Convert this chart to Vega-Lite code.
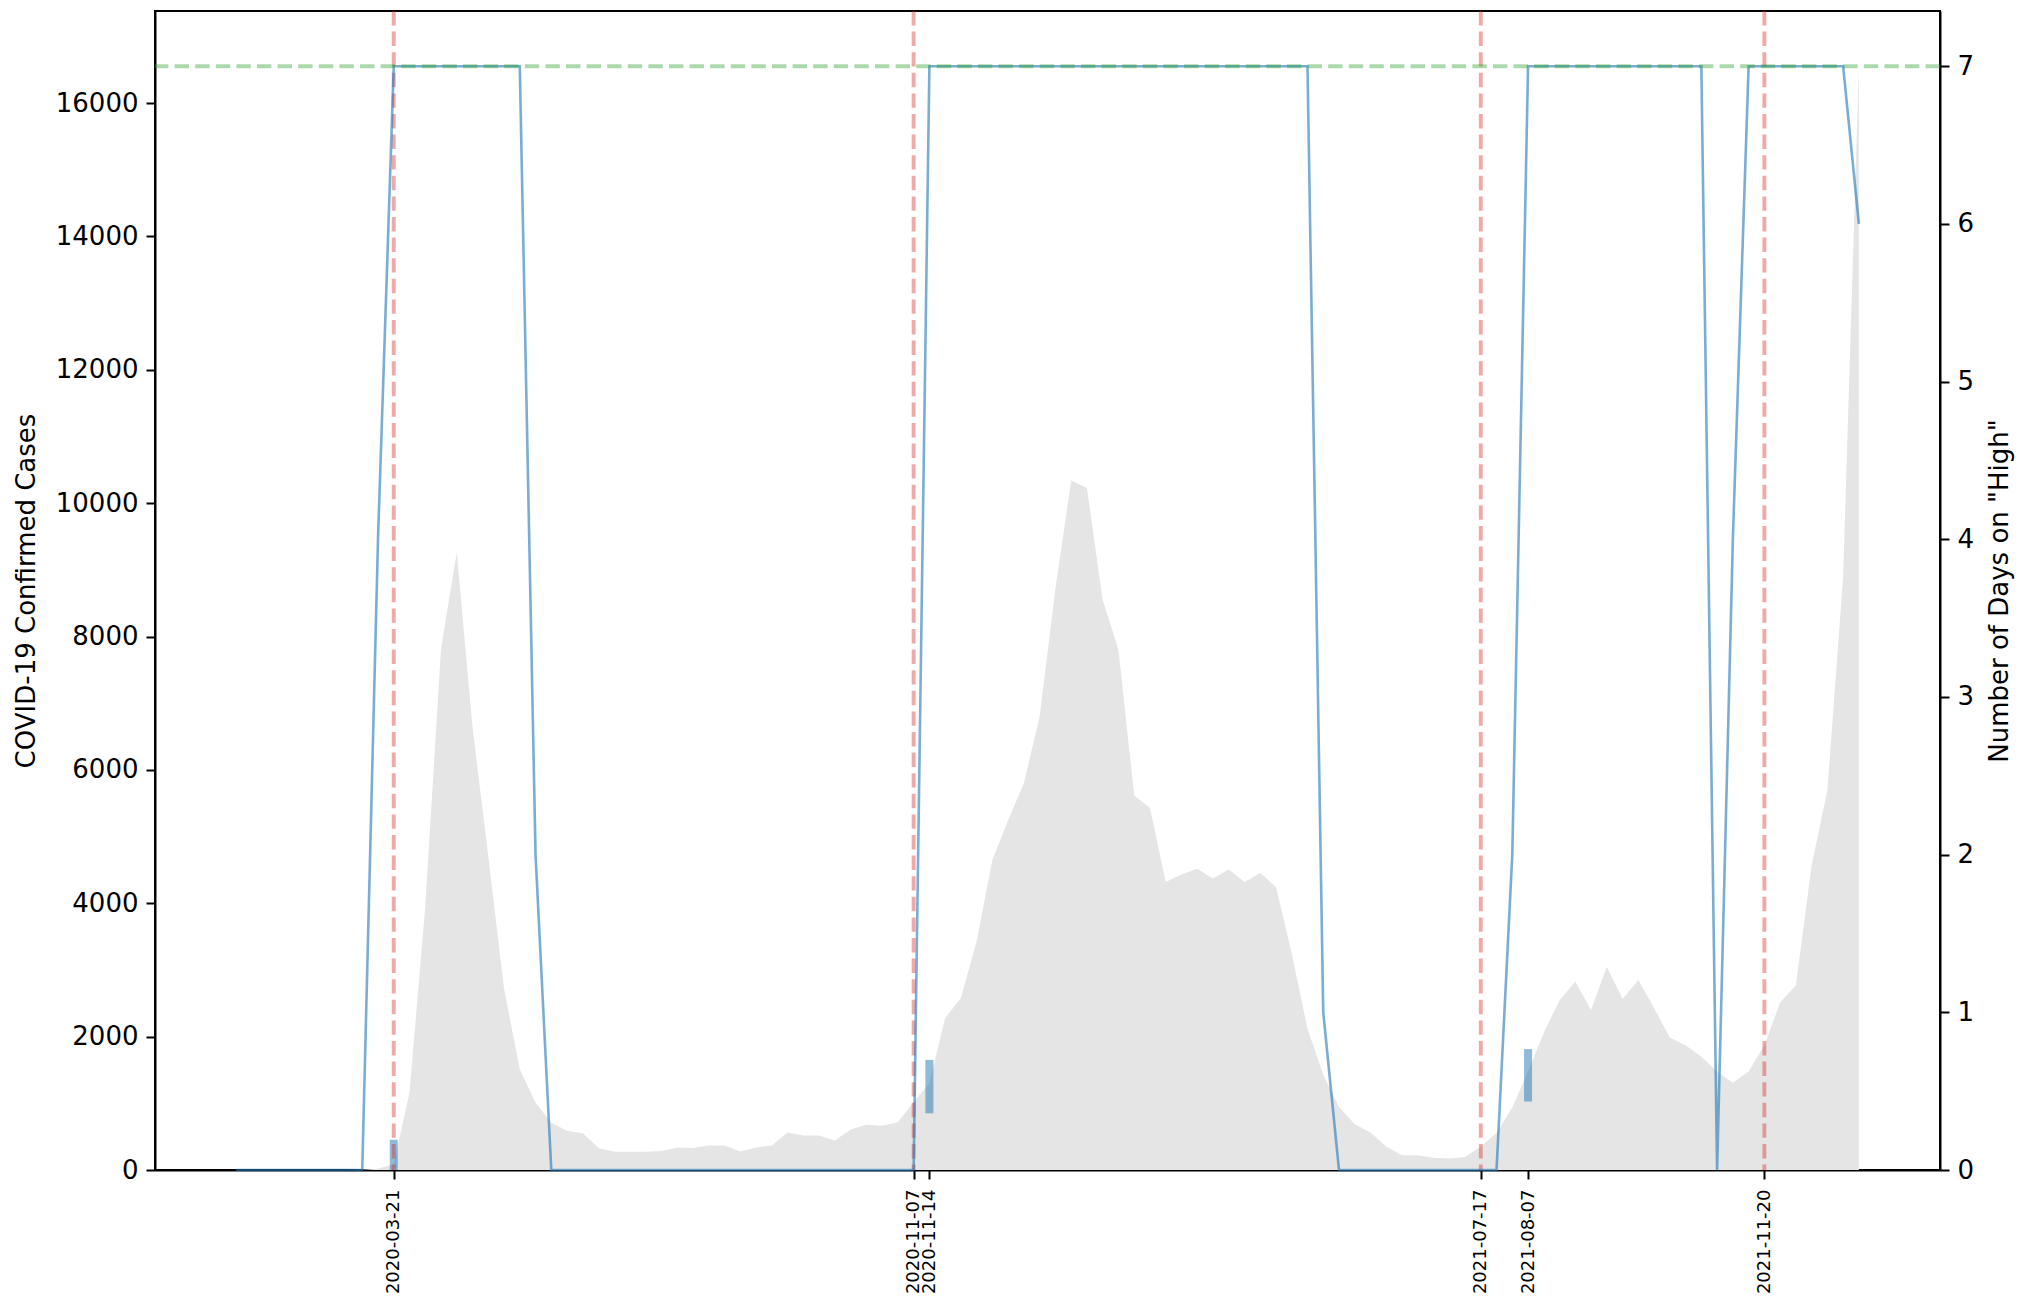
{
  "$schema": "https://vega.github.io/schema/vega-lite/v6.json",
  "width": 1785,
  "height": 1159,
  "autosize": {"type": "none"},
  "padding": {"left": 155, "top": 11, "right": 79, "bottom": 130},
  "background": "white",
  "config": {
    "view": {"stroke": "black", "strokeWidth": 2},
    "font": "DejaVu Sans",
    "axis": {
      "grid": false, "domainColor": "black", "domainWidth": 2,
      "tickColor": "black", "tickWidth": 2, "tickSize": 9,
      "labelColor": "black", "titleColor": "black", "zindex": 1,
      "labelFont": "DejaVu Sans", "titleFont": "DejaVu Sans", "titleFontWeight": "normal"
    }
  },
  "datasets": {
    "weekly": [
      {"date": "2020-01-11", "cases": 0, "days": 0},
      {"date": "2020-01-18", "cases": 0, "days": 0},
      {"date": "2020-01-25", "cases": 0, "days": 0},
      {"date": "2020-02-01", "cases": 0, "days": 0},
      {"date": "2020-02-08", "cases": 0, "days": 0},
      {"date": "2020-02-15", "cases": 0, "days": 0},
      {"date": "2020-02-22", "cases": 0, "days": 0},
      {"date": "2020-02-29", "cases": 0, "days": 0},
      {"date": "2020-03-07", "cases": 5, "days": 0},
      {"date": "2020-03-14", "cases": 20, "days": 4},
      {"date": "2020-03-21", "cases": 90, "days": 7},
      {"date": "2020-03-28", "cases": 1160, "days": 7},
      {"date": "2020-04-04", "cases": 3950, "days": 7},
      {"date": "2020-04-11", "cases": 7815, "days": 7},
      {"date": "2020-04-18", "cases": 9260, "days": 7},
      {"date": "2020-04-25", "cases": 6640, "days": 7},
      {"date": "2020-05-02", "cases": 4700, "days": 7},
      {"date": "2020-05-09", "cases": 2720, "days": 7},
      {"date": "2020-05-16", "cases": 1510, "days": 7},
      {"date": "2020-05-23", "cases": 1010, "days": 2},
      {"date": "2020-05-30", "cases": 710, "days": 0},
      {"date": "2020-06-06", "cases": 590, "days": 0},
      {"date": "2020-06-13", "cases": 550, "days": 0},
      {"date": "2020-06-20", "cases": 330, "days": 0},
      {"date": "2020-06-27", "cases": 275, "days": 0},
      {"date": "2020-07-04", "cases": 275, "days": 0},
      {"date": "2020-07-11", "cases": 275, "days": 0},
      {"date": "2020-07-18", "cases": 285, "days": 0},
      {"date": "2020-07-25", "cases": 339, "days": 0},
      {"date": "2020-08-01", "cases": 330, "days": 0},
      {"date": "2020-08-08", "cases": 369, "days": 0},
      {"date": "2020-08-15", "cases": 369, "days": 0},
      {"date": "2020-08-22", "cases": 279, "days": 0},
      {"date": "2020-08-29", "cases": 339, "days": 0},
      {"date": "2020-09-05", "cases": 369, "days": 0},
      {"date": "2020-09-12", "cases": 561, "days": 0},
      {"date": "2020-09-19", "cases": 517, "days": 0},
      {"date": "2020-09-26", "cases": 517, "days": 0},
      {"date": "2020-10-03", "cases": 442, "days": 0},
      {"date": "2020-10-10", "cases": 606, "days": 0},
      {"date": "2020-10-17", "cases": 680, "days": 0},
      {"date": "2020-10-24", "cases": 665, "days": 0},
      {"date": "2020-10-31", "cases": 717, "days": 0},
      {"date": "2020-11-07", "cases": 1021, "days": 0},
      {"date": "2020-11-14", "cases": 1300, "days": 7},
      {"date": "2020-11-21", "cases": 2281, "days": 7},
      {"date": "2020-11-28", "cases": 2578, "days": 7},
      {"date": "2020-12-05", "cases": 3430, "days": 7},
      {"date": "2020-12-12", "cases": 4653, "days": 7},
      {"date": "2020-12-19", "cases": 5246, "days": 7},
      {"date": "2020-12-26", "cases": 5801, "days": 7},
      {"date": "2021-01-02", "cases": 6802, "days": 7},
      {"date": "2021-01-09", "cases": 8720, "days": 7},
      {"date": "2021-01-16", "cases": 10338, "days": 7},
      {"date": "2021-01-23", "cases": 10227, "days": 7},
      {"date": "2021-01-30", "cases": 8545, "days": 7},
      {"date": "2021-02-06", "cases": 7804, "days": 7},
      {"date": "2021-02-13", "cases": 5616, "days": 7},
      {"date": "2021-02-20", "cases": 5431, "days": 7},
      {"date": "2021-02-27", "cases": 4318, "days": 7},
      {"date": "2021-03-06", "cases": 4431, "days": 7},
      {"date": "2021-03-13", "cases": 4519, "days": 7},
      {"date": "2021-03-20", "cases": 4371, "days": 7},
      {"date": "2021-03-27", "cases": 4505, "days": 7},
      {"date": "2021-04-03", "cases": 4318, "days": 7},
      {"date": "2021-04-10", "cases": 4452, "days": 7},
      {"date": "2021-04-17", "cases": 4245, "days": 7},
      {"date": "2021-04-24", "cases": 3245, "days": 7},
      {"date": "2021-05-01", "cases": 2117, "days": 7},
      {"date": "2021-05-08", "cases": 1429, "days": 1},
      {"date": "2021-05-15", "cases": 946, "days": 0},
      {"date": "2021-05-22", "cases": 687, "days": 0},
      {"date": "2021-05-29", "cases": 561, "days": 0},
      {"date": "2021-06-05", "cases": 354, "days": 0},
      {"date": "2021-06-12", "cases": 220, "days": 0},
      {"date": "2021-06-19", "cases": 220, "days": 0},
      {"date": "2021-06-26", "cases": 183, "days": 0},
      {"date": "2021-07-03", "cases": 171, "days": 0},
      {"date": "2021-07-10", "cases": 195, "days": 0},
      {"date": "2021-07-17", "cases": 352, "days": 0},
      {"date": "2021-07-24", "cases": 555, "days": 0},
      {"date": "2021-07-31", "cases": 937, "days": 2},
      {"date": "2021-08-07", "cases": 1476, "days": 7},
      {"date": "2021-08-14", "cases": 2060, "days": 7},
      {"date": "2021-08-21", "cases": 2543, "days": 7},
      {"date": "2021-08-28", "cases": 2825, "days": 7},
      {"date": "2021-09-04", "cases": 2398, "days": 7},
      {"date": "2021-09-11", "cases": 3049, "days": 7},
      {"date": "2021-09-18", "cases": 2566, "days": 7},
      {"date": "2021-09-25", "cases": 2848, "days": 7},
      {"date": "2021-10-02", "cases": 2431, "days": 7},
      {"date": "2021-10-09", "cases": 1982, "days": 7},
      {"date": "2021-10-16", "cases": 1870, "days": 7},
      {"date": "2021-10-23", "cases": 1700, "days": 7},
      {"date": "2021-10-30", "cases": 1476, "days": 0},
      {"date": "2021-11-06", "cases": 1308, "days": 4},
      {"date": "2021-11-13", "cases": 1476, "days": 7},
      {"date": "2021-11-20", "cases": 1870, "days": 7},
      {"date": "2021-11-27", "cases": 2510, "days": 7},
      {"date": "2021-12-04", "cases": 2768, "days": 7},
      {"date": "2021-12-11", "cases": 4566, "days": 7},
      {"date": "2021-12-18", "cases": 5690, "days": 7},
      {"date": "2021-12-25", "cases": 8892, "days": 7},
      {"date": "2022-01-01", "cases": 16552, "days": 6}
    ],
    "bars": [
      {"date": "2020-03-21", "lo": 0, "hi": 453},
      {"date": "2020-11-14", "lo": 850, "hi": 1651},
      {"date": "2021-08-07", "lo": 1027, "hi": 1813}
    ],
    "events": [
      {"date": "2020-03-21"},
      {"date": "2020-11-07"},
      {"date": "2021-07-17"},
      {"date": "2021-11-20"}
    ],
    "level": [{"level": 7}]
  },
  "layer": [
    {
      "encoding": {
        "x": {
          "field": "date", "type": "temporal",
          "scale": {"type": "utc", "domain": [{"year": 2019, "month": 12, "date": 5, "hours": 22, "utc": true}, {"year": 2022, "month": 2, "date": 6, "hours": 1, "utc": true}], "nice": false},
          "axis": {
            "title": null,
            "values": [
              {"year": 2020, "month": 3, "date": 21, "utc": true},
              {"year": 2020, "month": 11, "date": 7, "utc": true},
              {"year": 2020, "month": 11, "date": 14, "utc": true},
              {"year": 2021, "month": 7, "date": 17, "utc": true},
              {"year": 2021, "month": 8, "date": 7, "utc": true},
              {"year": 2021, "month": 11, "date": 20, "utc": true}
            ],
            "labelExpr": "utcFormat(datum.value, '%Y-%m-%d')",
            "labelAngle": -90, "labelFontSize": 18, "labelPadding": 10,
            "labelOverlap": false, "labelBound": false, "labelFlush": false
          }
        }
      },
      "layer": [
        {
          "data": {"name": "weekly"},
          "mark": {"type": "area", "color": "#e5e5e5", "opacity": 1},
          "encoding": {
            "y": {
              "field": "cases", "type": "quantitative",
              "scale": {"domain": [0, 17380], "nice": false, "zero": true},
              "axis": {
                "orient": "left", "title": "COVID-19 Confirmed Cases",
                "values": [0, 2000, 4000, 6000, 8000, 10000, 12000, 14000, 16000],
                "format": "d", "labelFontSize": 26, "titleFontSize": 26, "labelPadding": 8,
                "titleX": -129, "titleY": 579.5, "titleAngle": 270, "titleBaseline": "middle", "titleAlign": "center"
              }
            }
          }
        },
        {
          "data": {"name": "bars"},
          "mark": {"type": "rule", "color": "#1f77b4", "opacity": 0.5, "strokeWidth": 8},
          "encoding": {
            "y": {"field": "lo", "type": "quantitative", "title": "COVID-19 Confirmed Cases", "scale": {"domain": [0, 17380], "nice": false}},
            "y2": {"field": "hi"}
          }
        },
        {
          "data": {"name": "events"},
          "mark": {"type": "rule", "color": "#d62728", "opacity": 0.4, "strokeWidth": 3.9, "strokeDash": [14.4, 6.2]},
          "encoding": {}
        }
      ]
    },
    {
      "layer": [
        {
          "data": {"name": "weekly"},
          "mark": {"type": "line", "color": "#1f77b4", "opacity": 0.6, "strokeWidth": 2.6},
          "encoding": {
            "x": {
              "field": "date", "type": "temporal", "title": null,
              "scale": {"type": "utc", "domain": [{"year": 2019, "month": 12, "date": 5, "hours": 22, "utc": true}, {"year": 2022, "month": 2, "date": 6, "hours": 1, "utc": true}], "nice": false}
            },
            "y": {
              "field": "days", "type": "quantitative",
              "scale": {"domain": [0, 7.35], "nice": false, "zero": true},
              "axis": {
                "orient": "right", "title": "Number of Days on \"High\"",
                "values": [0, 1, 2, 3, 4, 5, 6, 7],
                "format": "d", "labelFontSize": 26, "titleFontSize": 26, "labelPadding": 8,
                "titleX": 59, "titleY": 579.5, "titleAngle": 270, "titleBaseline": "middle", "titleAlign": "center"
              }
            }
          }
        },
        {
          "data": {"name": "level"},
          "mark": {"type": "rule", "color": "#2ca02c", "opacity": 0.4, "strokeWidth": 3.9, "strokeDash": [14.4, 6.2]},
          "encoding": {
            "y": {"field": "level", "type": "quantitative", "title": "Number of Days on \"High\"", "scale": {"domain": [0, 7.35], "nice": false}}
          }
        }
      ]
    }
  ],
  "resolve": {"scale": {"y": "independent"}}
}
